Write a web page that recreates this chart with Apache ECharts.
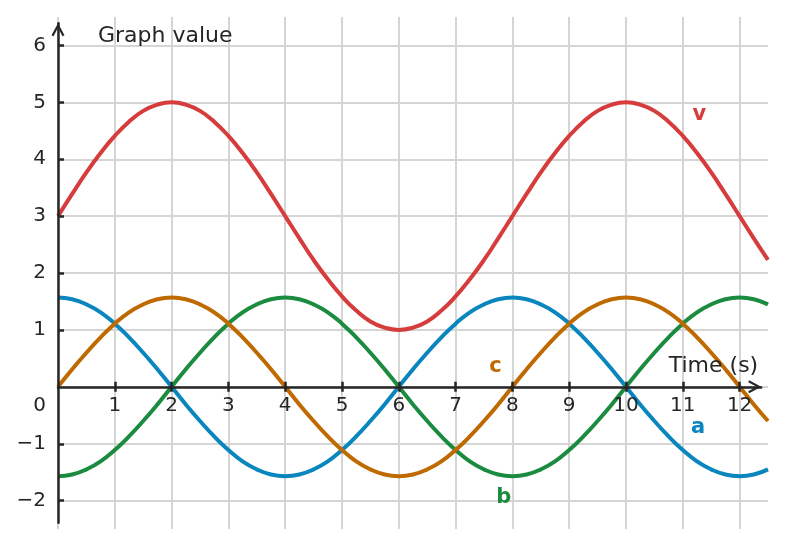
<!DOCTYPE html>
<html lang="en" style="width: 100%;height:100%">
    <head>
        <meta charset="UTF-8">
        <title>Graph value</title>
        <script src="https://cdn.jsdelivr.net/npm/echarts@6.0.0/dist/echarts.min.js"></script>
    </head>

    <body style="width: 100%;height:100%;margin:0">
        <div id="chart" style="width: 785px;height:547px"></div>
        <script>
            // values every 0.25 s
            var times = [0, 0.25, 0.5, 0.75, 1, 1.25, 1.5, 1.75, 2, 2.25, 2.5, 2.75, 3, 3.25, 3.5, 3.75, 4,
                         4.25, 4.5, 4.75, 5, 5.25, 5.5, 5.75, 6, 6.25, 6.5, 6.75, 7, 7.25, 7.5, 7.75, 8,
                         8.25, 8.5, 8.75, 9, 9.25, 9.5, 9.75, 10, 10.25, 10.5, 10.75, 11, 11.25, 11.5, 11.75, 12,
                         12.25, 12.5];
            var vValues = [3, 3.39, 3.77, 4.11, 4.41, 4.66, 4.85, 4.96, 5, 4.96, 4.85, 4.66, 4.41, 4.11, 3.77, 3.39, 3,
                           2.61, 2.23, 1.89, 1.59, 1.34, 1.15, 1.04, 1, 1.04, 1.15, 1.34, 1.59, 1.89, 2.23, 2.61, 3,
                           3.39, 3.77, 4.11, 4.41, 4.66, 4.85, 4.96, 5, 4.96, 4.85, 4.66, 4.41, 4.11, 3.77, 3.39, 3,
                           2.61, 2.23];
            var aValues = [1.57, 1.54, 1.45, 1.31, 1.11, 0.87, 0.6, 0.31, 0, -0.31, -0.6, -0.87, -1.11, -1.31, -1.45, -1.54, -1.57,
                           -1.54, -1.45, -1.31, -1.11, -0.87, -0.6, -0.31, 0, 0.31, 0.6, 0.87, 1.11, 1.31, 1.45, 1.54, 1.57,
                           1.54, 1.45, 1.31, 1.11, 0.87, 0.6, 0.31, 0, -0.31, -0.6, -0.87, -1.11, -1.31, -1.45, -1.54, -1.57,
                           -1.54, -1.45];
            var bValues = [-1.57, -1.54, -1.45, -1.31, -1.11, -0.87, -0.6, -0.31, 0, 0.31, 0.6, 0.87, 1.11, 1.31, 1.45, 1.54, 1.57,
                           1.54, 1.45, 1.31, 1.11, 0.87, 0.6, 0.31, 0, -0.31, -0.6, -0.87, -1.11, -1.31, -1.45, -1.54, -1.57,
                           -1.54, -1.45, -1.31, -1.11, -0.87, -0.6, -0.31, 0, 0.31, 0.6, 0.87, 1.11, 1.31, 1.45, 1.54, 1.57,
                           1.54, 1.45];
            var cValues = [0, 0.31, 0.6, 0.87, 1.11, 1.31, 1.45, 1.54, 1.57, 1.54, 1.45, 1.31, 1.11, 0.87, 0.6, 0.31, 0,
                           -0.31, -0.6, -0.87, -1.11, -1.31, -1.45, -1.54, -1.57, -1.54, -1.45, -1.31, -1.11, -0.87, -0.6, -0.31, 0,
                           0.31, 0.6, 0.87, 1.11, 1.31, 1.45, 1.54, 1.57, 1.54, 1.45, 1.31, 1.11, 0.87, 0.6, 0.31, 0,
                           -0.31, -0.6];

            var xGridValues = [0, 1, 2, 3, 4, 5, 6, 7, 8, 9, 10, 11, 12];
            var xTickValues = [1, 2, 3, 4, 5, 6, 7, 8, 9, 10, 11, 12];
            var yGridValues = [-2, -1, 0, 1, 2, 3, 4, 5, 6];
            var yTickValues = [-2, -1, 1, 2, 3, 4, 5, 6];

            // where the curve names sit, in data units
            var seriesNames = ['a', 'b', 'c', 'v'];
            var nameSpots = [[11.27, -0.71], [7.85, -1.94], [7.7, 0.35], [11.29, 4.79]];

            var colors = {a: '#0a86be', b: '#1b8b3f', c: '#bf6a00', v: '#d63c3c'};
            var ink = '#262626';
            var font = 'DejaVu Sans';

            // scale of the picture (not "top": that is window.top)
            var gridLeft = 58, gridTop = 17, pxX = 56.8, pxY = 56.9;
            var xMax = 12.5, yMin = -2.5, yMax = 6.5;
            var axXMax = 12.38, axYMin = -2.39, axYMax = 6.39;
            var zeroPx = gridTop + yMax * pxY;

            function pairs(ys) {
                return times.map(function (t, i) { return [t, ys[i]]; });
            }

            var arrow = 'path://M0,12 L6.5,0 L13,12 L11,13 L6.5,4.5 L2,13 Z';

            const myChart = echarts.init(document.getElementById('chart'));

            var valuesBy = {a: aValues, b: bValues, c: cValues, v: vValues};
            var lines = seriesNames.map(function (n, i) {
                return {
                    name: n,
                    type: 'line',
                    xAxisIndex: 0,
                    yAxisIndex: 0,
                    data: pairs(valuesBy[n]),
                    smooth: true,
                    showSymbol: false,
                    silent: true,
                    z: 2,
                    lineStyle: {color: colors[n], width: 4},
                    markPoint: {
                        symbol: 'circle',
                        symbolSize: 0,
                        silent: true,
                        label: {
                            show: true,
                            position: 'inside',
                            formatter: n,
                            color: colors[n],
                            fontFamily: font,
                            fontWeight: 'bold',
                            fontSize: 21
                        },
                        data: [{coord: nameSpots[i]}]
                    }
                };
            });

            const option = {
                animation: false,
                backgroundColor: '#ffffff',
                grid: [
                    {   // plot area + grid lines
                        left: gridLeft, top: gridTop,
                        width: xMax * pxX, height: (yMax - yMin) * pxY,
                        outerBoundsMode: 'none', containLabel: false
                    },
                    {   // axis lines with arrows
                        left: gridLeft, top: gridTop + (yMax - axYMax) * pxY,
                        width: axXMax * pxX, height: (axYMax - axYMin) * pxY,
                        outerBoundsMode: 'none', containLabel: false
                    },
                    {   // x tick labels, bottom edge on y = 0
                        left: gridLeft, top: 100,
                        width: axXMax * pxX, height: zeroPx - 100,
                        outerBoundsMode: 'none', containLabel: false
                    }
                ],
                xAxis: [
                    {
                        type: 'value', gridIndex: 0, min: 0, max: xMax,
                        axisLine: {show: false},
                        axisTick: {show: false, customValues: xGridValues},
                        axisLabel: {show: false},
                        splitLine: {show: true, lineStyle: {color: '#d5d5d5', width: 2}}
                    },
                    {
                        type: 'value', gridIndex: 1, min: 0, max: axXMax, position: 'bottom', z: 5,
                        name: 'Time (s)',
                        nameLocation: 'end',
                        nameGap: -3,
                        nameMoveOverlap: false,
                        nameTextStyle: {
                            fontFamily: font, fontSize: 22, color: ink,
                            align: 'right', verticalAlign: 'bottom', lineHeight: 42
                        },
                        axisLine: {
                            show: true, onZero: true, onZeroAxisIndex: 1,
                            symbol: ['none', arrow], symbolSize: [13, 13], symbolOffset: [0, -6.5],
                            lineStyle: {color: ink, width: 2.5}
                        },
                        axisTick: {show: true, inside: false, length: 5, customValues: xTickValues, lineStyle: {color: ink, width: 2.5}},
                        axisLabel: {show: false},
                        splitLine: {show: false}
                    },
                    {
                        // upper half of the crossing x ticks
                        type: 'value', gridIndex: 1, min: 0, max: axXMax, position: 'top', z: 5,
                        axisLine: {show: false, onZero: true, onZeroAxisIndex: 1},
                        axisTick: {show: true, inside: false, length: 5, customValues: xTickValues, lineStyle: {color: ink, width: 2.5}},
                        axisLabel: {show: false},
                        splitLine: {show: false}
                    },
                    {
                        type: 'value', gridIndex: 2, min: 0, max: axXMax, position: 'bottom', z: 5,
                        axisLine: {show: false, onZero: false},
                        axisTick: {show: false},
                        axisLabel: {
                            show: true, customValues: xTickValues, margin: 9,
                            fontFamily: font, fontSize: 20, color: ink
                        },
                        splitLine: {show: false}
                    }
                ],
                yAxis: [
                    {
                        type: 'value', gridIndex: 0, min: yMin, max: yMax,
                        axisLine: {show: false, onZero: false},
                        axisTick: {show: false, customValues: yGridValues},
                        axisLabel: {show: false},
                        splitLine: {show: true, lineStyle: {color: '#d5d5d5', width: 2}}
                    },
                    {
                        type: 'value', gridIndex: 1, min: axYMin, max: axYMax, position: 'left', z: 5,
                        name: 'Graph value',
                        nameLocation: 'end',
                        nameGap: -13,
                        nameMoveOverlap: false,
                        nameTextStyle: {
                            fontFamily: font, fontSize: 22, color: ink,
                            align: 'left', verticalAlign: 'middle', padding: [0, 0, 0, 40]
                        },
                        axisLine: {
                            show: true, onZero: false,
                            symbol: ['none', arrow], symbolSize: [13, 13], symbolOffset: [0, -6.5],
                            lineStyle: {color: ink, width: 2.5}
                        },
                        axisTick: {show: true, inside: true, length: 6, customValues: yTickValues, lineStyle: {color: ink, width: 2.5}},
                        axisLabel: {
                            show: true, customValues: yGridValues, margin: 12,
                            fontFamily: font, fontSize: 20, color: ink,
                            formatter: function (val) {
                                if (val === 0) return '{z|0}';
                                return val < 0 ? '\u2212' + (-val) : String(val);
                            },
                            rich: {
                                z: {fontFamily: font, fontSize: 20, color: ink, padding: [38, 0, 0, 0]}
                            }
                        },
                        splitLine: {show: false}
                    },
                    {
                        type: 'value', gridIndex: 2, min: 0, max: 1, show: false
                    }
                ],
                series: lines
            };

            myChart.setOption(option);
        </script>
    </body>
</html>
